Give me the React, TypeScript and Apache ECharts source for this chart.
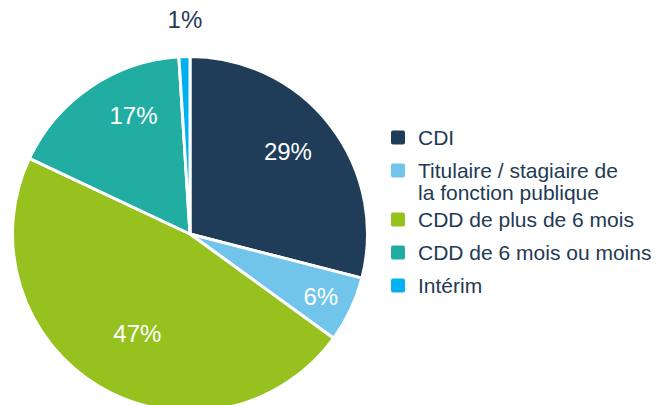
import React, { useEffect, useRef } from "react";
import * as echarts from "echarts";

const categories = [
  "CDI",
  "Titulaire / stagiaire de la fonction publique",
  "CDD de plus de 6 mois",
  "CDD de 6 mois ou moins",
  "Intérim",
];
const legendLabels = [
  "CDI",
  "Titulaire / stagiaire de\nla fonction publique",
  "CDD de plus de 6 mois",
  "CDD de 6 mois ou moins",
  "Intérim",
];
const shares = [29, 6, 47, 17, 1];
const colors = ["#1f3d58", "#72c5ea", "#96c11f", "#21ada2", "#00b0f0"];

const FONT = "'Liberation Sans', Arial, Helvetica, sans-serif";
const DARK = "#223a53";

export default function App() {
  const ref = useRef<HTMLDivElement>(null);
  useEffect(() => {
    if (!ref.current) return;
    const chart = echarts.init(ref.current, undefined, { renderer: "svg" });

    // label styling per slice (offsets tune the label placement within the slice)
    const labelTweaks: any[] = [
      { offset: [-4, -3], color: "#ffffff" },
      { offset: [14, 8], color: "#ffffff" },
      { offset: [13, -12], color: "#ffffff" },
      { offset: [16, -12], color: "#ffffff" },
      { offset: [-1, -86], color: DARK },
    ];

    const center = [190, 234];

    // legend drawn with graphic elements so the icon lines up with the first text line
    const legendEls: any[] = [];
    const LH = 22;
    let cy = 137.5;
    legendLabels.forEach((lab, i) => {
      const lines = lab.split("\n").length;
      legendEls.push({
        type: "rect",
        shape: { x: 391, y: cy - 7, width: 14, height: 14, r: 2 },
        style: { fill: colors[i] },
        silent: true,
      });
      legendEls.push({
        type: "text",
        x: 418,
        y: cy - LH / 2,
        style: {
          text: lab,
          fill: DARK,
          font: `21px ${FONT}`,
          lineHeight: LH,
          verticalAlign: "top",
          align: "left",
        },
        silent: true,
      });
      cy += 33 + (lines - 1) * 16;
    });

    chart.setOption({
      animation: false,
      backgroundColor: "#ffffff",
      textStyle: { fontFamily: FONT },
      color: colors,
      series: [
        {
          type: "pie",
          center,
          radius: 177.5,
          startAngle: 90,
          clockwise: true,
          silent: true,
          label: { show: false },
          labelLine: { show: false },
          itemStyle: { borderColor: "#ffffff", borderWidth: 3 },
          data: categories.map((name, i) => ({ name, value: shares[i] })),
        },
        {
          type: "pie",
          center,
          radius: 252,
          startAngle: 90,
          clockwise: true,
          silent: true,
          z: 5,
          itemStyle: { color: "rgba(0,0,0,0)" },
          labelLine: { show: false },
          label: {
            show: true,
            position: "inside",
            formatter: "{c}%",
            fontSize: 24,
            fontFamily: FONT,
          },
          data: categories.map((name, i) => ({
            name,
            value: shares[i],
            label: labelTweaks[i],
          })),
        },
      ],
      graphic: legendEls,
    });
    return () => chart.dispose();
  }, []);
  return (
    <div
      ref={ref}
      style={{ position: "fixed", left: 0, top: 0, width: 657, height: 405 }}
    />
  );
}
